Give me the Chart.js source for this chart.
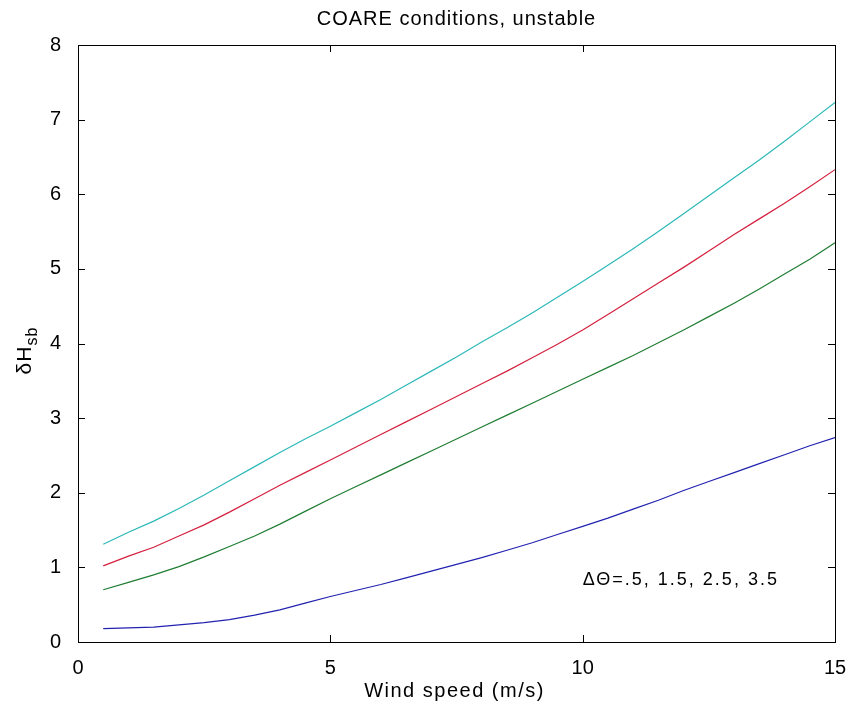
<!DOCTYPE html>
<html>
<head>
<meta charset="UTF-8">
<title>COARE conditions, unstable</title>
<script src="https://cdn.jsdelivr.net/npm/chart.js"></script>
<style>
  body { margin: 0; background: #fff; }
  canvas { display: block; }
</style>
</head>
<body>
<canvas id="chartCoare" width="849" height="709"></canvas>
<script>
    // wind speed (m/s)
    const windSpeed = [0.5, 1, 1.5, 2, 2.5, 3, 3.5, 4, 4.5, 5, 5.5, 6, 6.5, 7, 7.5,
                       8, 8.5, 9, 9.5, 10, 10.5, 11, 11.5, 12, 12.5, 13, 13.5, 14, 14.5, 15];

    // dH_sb for dTheta = .5, 1.5, 2.5, 3.5
    const dTheta05 = [0.18, 0.19, 0.20, 0.23, 0.26, 0.30, 0.36, 0.43, 0.52, 0.61, 0.69, 0.77, 0.86, 0.95, 1.04,
                      1.13, 1.23, 1.33, 1.44, 1.55, 1.66, 1.78, 1.90, 2.03, 2.15, 2.27, 2.39, 2.51, 2.63, 2.74];
    const dTheta15 = [0.70, 0.80, 0.90, 1.01, 1.14, 1.28, 1.42, 1.58, 1.75, 1.92, 2.08, 2.24, 2.40, 2.56, 2.72,
                      2.88, 3.04, 3.20, 3.36, 3.52, 3.68, 3.84, 4.01, 4.18, 4.36, 4.54, 4.73, 4.93, 5.13, 5.35];
    const dTheta25 = [1.02, 1.15, 1.27, 1.42, 1.57, 1.74, 1.92, 2.10, 2.27, 2.44, 2.61, 2.78, 2.95, 3.12, 3.29,
                      3.46, 3.63, 3.81, 3.99, 4.18, 4.39, 4.60, 4.81, 5.02, 5.24, 5.46, 5.67, 5.88, 6.10, 6.33];
    const dTheta35 = [1.31, 1.47, 1.62, 1.79, 1.97, 2.16, 2.35, 2.54, 2.72, 2.89, 3.07, 3.25, 3.44, 3.63, 3.82,
                      4.02, 4.21, 4.41, 4.62, 4.83, 5.05, 5.27, 5.50, 5.74, 5.98, 6.22, 6.46, 6.71, 6.97, 7.23];

    const xTicks = [0, 5, 10, 15];
    const yTicks = [0, 1, 2, 3, 4, 5, 6, 7, 8];

    const FONT = '"Liberation Sans", Arial, sans-serif';

    function toPoints(values) {
        return values.map((v, i) => ({ x: windSpeed[i], y: v }));
    }

    // box, inward ticks, title, axis labels and the note inside the plot
    const matlabAxes = {
        id: 'matlabAxes',
        afterDatasetsDraw(chart) {
            const ctx = chart.ctx;
            const area = chart.chartArea;
            const xs = chart.scales.x;
            const ys = chart.scales.y;
            ctx.save();
            ctx.strokeStyle = '#000';
            ctx.lineWidth = 1;
            ctx.strokeRect(Math.round(area.left) + 0.5, Math.round(area.top) + 0.5,
                           Math.round(area.right - area.left), Math.round(area.bottom - area.top));

            ctx.beginPath();
            xTicks.forEach(t => {
                const px = Math.round(xs.getPixelForValue(t)) + 0.5;
                ctx.moveTo(px, area.bottom);
                ctx.lineTo(px, area.bottom - 7);
                ctx.moveTo(px, area.top);
                ctx.lineTo(px, area.top + 7);
            });
            yTicks.forEach(t => {
                const py = Math.round(ys.getPixelForValue(t)) + 0.5;
                ctx.moveTo(area.left, py);
                ctx.lineTo(area.left + 7, py);
                ctx.moveTo(area.right, py);
                ctx.lineTo(area.right - 7, py);
            });
            ctx.stroke();

            ctx.fillStyle = '#000';
            const cx = (area.left + area.right) / 2;

            ctx.font = '20px ' + FONT;
            ctx.textAlign = 'center';
            ctx.textBaseline = 'middle';
            ctx.letterSpacing = '1px';
            ctx.fillText('COARE conditions, unstable', cx, 19);
            ctx.letterSpacing = '1.5px';
            ctx.fillText('Wind speed (m/s)', cx - 2, 691);

            // y label: dH with subscript sb, rotated
            ctx.save();
            ctx.translate(25, (area.top + area.bottom) / 2 + 7);
            ctx.rotate(-Math.PI / 2);
            ctx.textAlign = 'left';
            ctx.letterSpacing = '1px';
            const main = 'δH';
            const sub = 'sb';
            ctx.font = '16px ' + FONT;
            const wSub = ctx.measureText(sub).width;
            ctx.font = '21px ' + FONT;
            const wMain = ctx.measureText(main).width;
            const start = -(wMain + wSub) / 2;
            ctx.fillText(main, start, 0);
            ctx.font = '16px ' + FONT;
            ctx.fillText(sub, start + wMain, 8);
            ctx.restore();

            ctx.font = '18px ' + FONT;
            ctx.letterSpacing = '2px';
            ctx.textAlign = 'left';
            ctx.textBaseline = 'middle';
            ctx.fillText('ΔΘ=.5, 1.5, 2.5, 3.5', xs.getPixelForValue(10), ys.getPixelForValue(0.83));
            ctx.restore();
        }
    };

    function series(values, color) {
        return {
            data: toPoints(values),
            borderColor: color,
            backgroundColor: color,
            borderWidth: 1.2,
            pointRadius: 0,
            tension: 0,
            fill: false
        };
    }

    const coareChart = new Chart(document.getElementById('chartCoare'), {
        type: 'line',
        data: {
            datasets: [
                series(dTheta05, '#2222b0'),
                series(dTheta15, '#1f7d32'),
                series(dTheta25, '#d4203e'),
                series(dTheta35, '#2cb8b8')
            ]
        },
        options: {
            responsive: false,
            animation: { duration: 0 },
            layout: { padding: { top: 45, right: 14, left: 0, bottom: 0 } },
            plugins: {
                legend: { display: false },
                tooltip: { enabled: false },
                title: { display: false }
            },
            scales: {
                x: {
                    type: 'linear',
                    min: 0,
                    max: 15,
                    grid: { display: false },
                    border: { display: false },
                    afterBuildTicks: axis => { axis.ticks = xTicks.map(v => ({ value: v })); },
                    afterFit: axis => {
                        axis.height = 67;
                        axis.paddingLeft = 0;
                        axis.paddingRight = 0;
                    },
                    ticks: {
                        color: '#000',
                        padding: 6,
                        maxRotation: 0,
                        font: { family: FONT, size: 20 }
                    }
                },
                y: {
                    type: 'linear',
                    min: 0,
                    max: 8,
                    grid: { display: false },
                    border: { display: false },
                    afterBuildTicks: axis => { axis.ticks = yTicks.map(v => ({ value: v })); },
                    afterFit: axis => {
                        axis.width = 78;
                        axis.paddingTop = 0;
                        axis.paddingBottom = 0;
                    },
                    ticks: {
                        color: '#000',
                        padding: 9,
                        font: { family: FONT, size: 20 }
                    }
                }
            }
        },
        plugins: [matlabAxes]
    });
</script>
</body>
</html>
